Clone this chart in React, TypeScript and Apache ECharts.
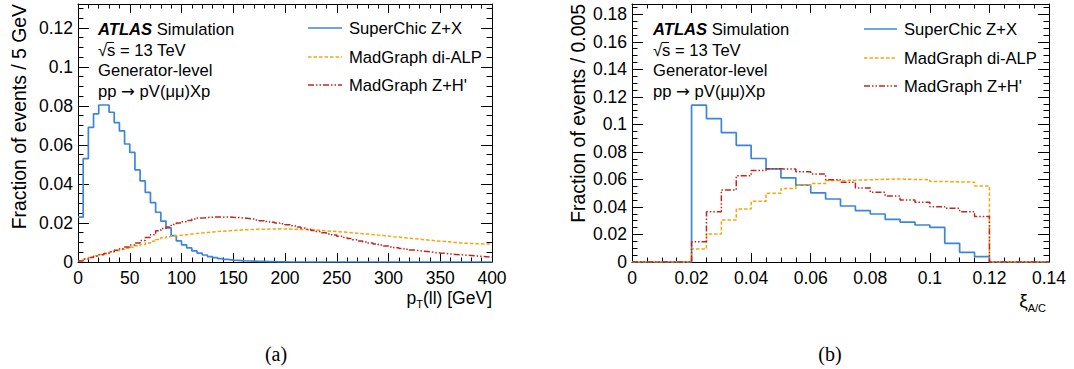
import React, { useEffect, useRef } from 'react';
import * as echarts from 'echarts';

// ---------- data ----------
const ptBinWidth = 5; // GeV
const ptSuperChic = [
  0.023, 0.053, 0.069, 0.076, 0.0805, 0.0805, 0.0768, 0.0715, 0.0672, 0.0605,
  0.0562, 0.0472, 0.0416, 0.0357, 0.0304, 0.0255, 0.021, 0.0175, 0.0135, 0.0108,
  0.0088, 0.0072, 0.0057, 0.0046, 0.0036, 0.0028, 0.0022, 0.0017, 0.0013, 0.001,
  0.0008, 0.0006, 0.0005, 0.0004, 0.0003, 0.0003, 0.0002, 0.0002, 0.0001, 0.0001,
  0, 0, 0, 0, 0, 0, 0, 0, 0, 0,
  0, 0, 0, 0, 0, 0, 0, 0, 0, 0,
  0, 0, 0, 0, 0, 0, 0, 0, 0, 0,
  0, 0, 0, 0, 0, 0, 0, 0, 0, 0,
];
const ptDiAlp = [
  0.0005, 0.0015, 0.0024, 0.0032, 0.0038, 0.0044, 0.0051, 0.0058, 0.0064, 0.007,
  0.0076, 0.0083, 0.009, 0.0098, 0.0106, 0.0115, 0.0124, 0.013, 0.0134, 0.0137,
  0.014, 0.0143, 0.0146, 0.0149, 0.0151, 0.0154, 0.0156, 0.0158, 0.016, 0.0162,
  0.0163, 0.0165, 0.0166, 0.0167, 0.0168, 0.0168, 0.0169, 0.0169, 0.017, 0.0169,
  0.0169, 0.0168, 0.0167, 0.0166, 0.0165, 0.0164, 0.0162, 0.016, 0.0158, 0.0156,
  0.0154, 0.0152, 0.015, 0.0148, 0.0145, 0.0143, 0.0141, 0.0138, 0.0136, 0.0133,
  0.013, 0.0128, 0.0125, 0.0122, 0.012, 0.0117, 0.0114, 0.0112, 0.0109, 0.0107,
  0.0105, 0.0103, 0.01, 0.0098, 0.0096, 0.0095, 0.0094, 0.0093, 0.0092, 0.0092,
];
const ptZH = [
  0.0005, 0.0015, 0.0023, 0.003, 0.0037, 0.0044, 0.0052, 0.006, 0.0068, 0.0077,
  0.0087, 0.0097, 0.011, 0.0125, 0.014, 0.016, 0.0172, 0.018, 0.0192, 0.02,
  0.0207, 0.0213, 0.022, 0.0225, 0.0228, 0.023, 0.0231, 0.023, 0.0231, 0.0229,
  0.0228, 0.0226, 0.0223, 0.022, 0.0216, 0.0212, 0.0208, 0.0204, 0.02, 0.0196,
  0.0191, 0.0186, 0.018, 0.0174, 0.0168, 0.0162, 0.0156, 0.015, 0.0144, 0.0138,
  0.0132, 0.0126, 0.012, 0.0114, 0.0108, 0.0103, 0.0097, 0.0092, 0.0087, 0.0082,
  0.0077, 0.0073, 0.0069, 0.0065, 0.0061, 0.0058, 0.0055, 0.0052, 0.0049, 0.0046,
  0.0044, 0.0041, 0.0039, 0.0037, 0.0035, 0.0033, 0.0031, 0.0029, 0.0027, 0.0025,
];

const xiBinWidth = 0.005;
const xiSuperChic = [
  0, 0, 0, 0, 0.114, 0.1042, 0.094, 0.0848, 0.0752, 0.0677,
  0.0612, 0.0558, 0.0503, 0.0458, 0.0407, 0.0373, 0.0349, 0.031, 0.029, 0.0269,
  0.0252, 0.0136, 0.007, 0.0039, 0, 0, 0, 0,
];
const xiDiAlp = [
  0, 0, 0, 0, 0.0095, 0.0203, 0.0305, 0.0385, 0.0441, 0.0499,
  0.0535, 0.0558, 0.057, 0.0592, 0.0595, 0.0598, 0.0601, 0.0603, 0.06, 0.0598,
  0.0585, 0.0582, 0.058, 0.0553, 0, 0, 0, 0,
];
const xiZH = [
  0, 0, 0, 0, 0.0148, 0.0365, 0.0523, 0.0627, 0.0665, 0.0677,
  0.0676, 0.0656, 0.064, 0.0598, 0.058, 0.0538, 0.0506, 0.048, 0.045, 0.0434,
  0.0402, 0.039, 0.0366, 0.033, 0, 0, 0, 0,
];

const seriesNames = ['SuperChic Z+X', 'MadGraph di-ALP', "MadGraph Z+H'"];
const infoLines = ['Simulation', '\u221As = 13 TeV', 'Generator-level', 'pp {a|\u2192} pV(\u03BC\u03BC)Xp'];
const yTitles = ['Fraction of events / 5 GeV', 'Fraction of events / 0.005'];
const captions = ['(a)', '(b)'];

// ---------- styles ----------
const FONT = "'Liberation Sans', Arial, Helvetica, sans-serif";
const SERIF = "'Liberation Serif', 'Times New Roman', serif";
const COLORS = ['#3b86d8', '#fba40a', '#c4261d'];
const DASHES: any[] = ['solid', [3.5, 2], [6, 2, 1.5, 2, 1.5, 2]];
const WIDTHS = [1.7, 1.5, 1.5];

function toSteps(values: number[], width: number) {
  const pts: number[][] = values.map((v, i) => [+(i * width).toFixed(6), v]);
  pts.push([+(values.length * width).toFixed(6), values[values.length - 1]]);
  return pts;
}

function xAx(grid: number, min: number, max: number, interval: number, split: number, top: boolean) {
  return {
    type: 'value', gridIndex: grid, min, max, interval, position: top ? 'top' : 'bottom',
    axisLine: { show: true, onZero: false, lineStyle: { color: '#000', width: 1 } },
    axisTick: { show: true, inside: true, length: 9, lineStyle: { color: '#000', width: 1 } },
    minorTick: { show: true, splitNumber: split, length: 4.5, lineStyle: { color: '#000', width: 1 } },
    splitLine: { show: false },
    minorSplitLine: { show: false },
    axisLabel: { show: !top, color: '#000', fontSize: 17.5, fontFamily: FONT, margin: 7 },
  };
}
function yAx(grid: number, min: number, max: number, interval: number, split: number, right: boolean) {
  return {
    type: 'value', gridIndex: grid, min, max, interval, position: right ? 'right' : 'left',
    axisLine: { show: true, onZero: false, lineStyle: { color: '#000', width: 1 } },
    axisTick: { show: true, inside: true, length: 11, lineStyle: { color: '#000', width: 1 } },
    minorTick: { show: true, splitNumber: split, length: 5.5, lineStyle: { color: '#000', width: 1 } },
    splitLine: { show: false },
    minorSplitLine: { show: false },
    axisLabel: { show: !right, color: '#000', fontSize: 17.5, fontFamily: FONT, margin: 5, showMaxLabel: false },
  };
}

function histSeries(name: string, idx: number, values: number[], width: number, axisIndex: number) {
  return {
    name, type: 'line', step: 'end', xAxisIndex: axisIndex, yAxisIndex: axisIndex,
    data: toSteps(values, width), symbol: 'none', silent: true,
    lineStyle: { color: COLORS[idx], width: WIDTHS[idx], type: DASHES[idx] },
  };
}

function infoBlock(x: number) {
  const ys = [29, 50, 70, 91];
  const els: any[] = [];
  els.push({
    type: 'text', x, y: ys[0],
    style: {
      text: '{b|ATLAS} ' + infoLines[0], fontSize: 16.6, fontFamily: FONT, fill: '#000', verticalAlign: 'middle',
      rich: { b: { fontWeight: 'bold', fontStyle: 'italic', fontSize: 16.6, fontFamily: FONT, fill: '#000' } },
    },
  });
  for (let i = 1; i < 4; i++) {
    els.push({
      type: 'text', x, y: ys[i],
      style: {
        text: infoLines[i], fontSize: 16.6, fontFamily: FONT, fill: '#000', verticalAlign: 'middle',
        rich: { a: { fontSize: 16.6, fontFamily: "'DejaVu Sans', sans-serif", fill: '#000' } },
      },
    });
  }
  els.push({ type: 'line', shape: { x1: x + 8.5, y1: 42.5, x2: x + 16, y2: 42.5 }, style: { stroke: '#000', lineWidth: 1 } });
  return els;
}

function legendBlock(x1: number, x2: number, tx: number, ys: number[]) {
  const els: any[] = [];
  for (let i = 0; i < 3; i++) {
    els.push({
      type: 'line', shape: { x1, y1: ys[i], x2, y2: ys[i] },
      style: { stroke: COLORS[i], lineWidth: WIDTHS[i], lineDash: DASHES[i] === 'solid' ? null : DASHES[i] },
    });
    els.push({ type: 'text', x: tx, y: ys[i], style: { text: seriesNames[i], fontSize: 16.6, fontFamily: FONT, fill: '#000', verticalAlign: 'middle' } });
  }
  return els;
}

export default function App() {
  const ref = useRef<HTMLDivElement>(null);
  useEffect(() => {
    if (!ref.current) return;
    const chart = echarts.init(ref.current, null, { renderer: 'svg' });
    const option: any = {
      animation: false,
      backgroundColor: '#fff',
      grid: [
        { left: 78, top: 4, width: 414, height: 258, outerBoundsMode: 'none' },
        { left: 632, top: 4, width: 417, height: 258, outerBoundsMode: 'none' },
      ],
      xAxis: [
        xAx(0, 0, 400, 50, 5, false),
        xAx(0, 0, 400, 50, 5, true),
        xAx(1, 0, 0.14, 0.02, 4, false),
        xAx(1, 0, 0.14, 0.02, 4, true),
      ],
      yAxis: [
        yAx(0, 0, 0.1323, 0.02, 4, false),
        yAx(0, 0, 0.1323, 0.02, 4, true),
        yAx(1, 0, 0.1875, 0.02, 4, false),
        yAx(1, 0, 0.1875, 0.02, 4, true),
      ],
      series: [
        histSeries(seriesNames[0], 0, ptSuperChic, ptBinWidth, 0),
        histSeries(seriesNames[1], 1, ptDiAlp, ptBinWidth, 0),
        histSeries(seriesNames[2], 2, ptZH, ptBinWidth, 0),
        histSeries(seriesNames[0], 0, xiSuperChic, xiBinWidth, 2),
        histSeries(seriesNames[1], 1, xiDiAlp, xiBinWidth, 2),
        histSeries(seriesNames[2], 2, xiZH, xiBinWidth, 2),
      ],
      graphic: [
        ...infoBlock(98),
        ...infoBlock(653),
        ...legendBlock(308, 342, 349, [28, 57, 85]),
        ...legendBlock(864, 897, 904, [29, 58, 86]),
        {
          type: 'text', x: 18.5, y: 4, rotation: Math.PI / 2,
          style: { text: yTitles[0], fontSize: 19.4, fontFamily: FONT, fill: '#000', align: 'right', verticalAlign: 'middle' },
        },
        {
          type: 'text', x: 578, y: 4, rotation: Math.PI / 2,
          style: { text: yTitles[1], fontSize: 19.4, fontFamily: FONT, fill: '#000', align: 'right', verticalAlign: 'middle' },
        },
        {
          type: 'text', x: 492, y: 287,
          style: {
            text: '{n|p}{s|T}{n|(ll) [GeV]}', align: 'right', verticalAlign: 'top', fill: '#000',
            rich: {
              n: { fontSize: 17.5, fontFamily: FONT, lineHeight: 22, verticalAlign: 'middle', fill: '#000' },
              s: { fontSize: 11, fontFamily: FONT, lineHeight: 22, verticalAlign: 'bottom', fill: '#000' },
            },
          },
        },
        {
          type: 'text', x: 1046, y: 287,
          style: {
            text: '{n|\u03BE}{s|A/C}', align: 'right', verticalAlign: 'top', fill: '#000',
            rich: {
              n: { fontSize: 19, fontFamily: FONT, lineHeight: 26, verticalAlign: 'middle', fill: '#000' },
              s: { fontSize: 11, fontFamily: FONT, lineHeight: 26, verticalAlign: 'bottom', fill: '#000' },
            },
          },
        },
        { type: 'text', x: 276, y: 354, style: { text: captions[0], fontSize: 20, fontFamily: SERIF, fill: '#000', align: 'center', verticalAlign: 'middle' } },
        { type: 'text', x: 830, y: 354, style: { text: captions[1], fontSize: 20, fontFamily: SERIF, fill: '#000', align: 'center', verticalAlign: 'middle' } },
      ],
    };
    chart.setOption(option);
    return () => chart.dispose();
  }, []);
  return <div ref={ref} style={{ position: 'absolute', left: 0, top: 0, width: 1074, height: 369, background: '#fff' }} />;
}
